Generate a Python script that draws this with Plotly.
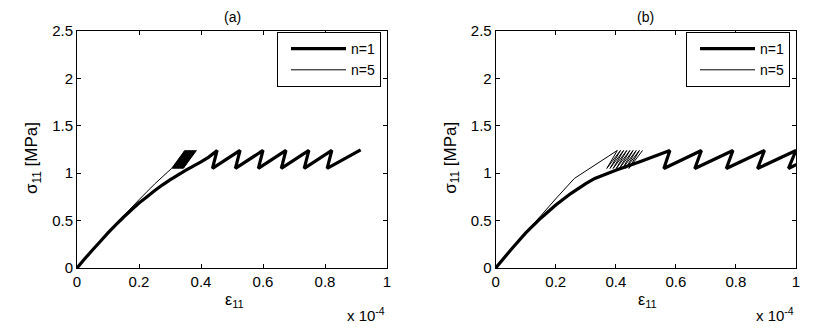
import plotly.graph_objects as go

W, H = 817, 329

# ---- data (strain in units of 1e-4, stress in MPa) ----
# panel (a)
a_thick_x = [0, 0.025, 0.05, 0.075, 0.1, 0.125, 0.15, 0.175, 0.2, 0.225, 0.25,
             0.275, 0.3, 0.325, 0.35, 0.375, 0.4, 0.425, 0.452,
             0.437, 0.526, 0.511, 0.600, 0.585, 0.674, 0.659, 0.748,
             0.733, 0.822, 0.807, 0.915]
a_thick_y = [0, 0.097, 0.19, 0.28, 0.37, 0.455, 0.535, 0.61, 0.685, 0.75, 0.815,
             0.875, 0.93, 0.98, 1.03, 1.075, 1.12, 1.17, 1.24,
             1.05, 1.24, 1.05, 1.24, 1.05, 1.24, 1.05, 1.24,
             1.05, 1.24, 1.05, 1.245]
a_thin_x = [0, 0.05, 0.1, 0.15, 0.2, 0.25, 0.305,
            0.348, 0.3075, 0.3505, 0.31, 0.353, 0.3125, 0.3555, 0.315,
            0.358, 0.3175, 0.3605, 0.32, 0.363, 0.3225, 0.3655, 0.325,
            0.368, 0.3275, 0.3705, 0.33, 0.373, 0.3325, 0.3755, 0.335,
            0.378, 0.3375, 0.3805, 0.34, 0.383, 0.3425, 0.3855]
a_thin_y = [0, 0.19, 0.375, 0.55, 0.72, 0.885, 1.05,
            1.24, 1.05, 1.24, 1.05, 1.24, 1.05, 1.24, 1.05,
            1.24, 1.05, 1.24, 1.05, 1.24, 1.05, 1.24, 1.05,
            1.24, 1.05, 1.24, 1.05, 1.24, 1.05, 1.24, 1.05,
            1.24, 1.05, 1.24, 1.05, 1.24, 1.05, 1.24]

# panel (b)
b_thick_x = [0, 0.05, 0.1, 0.15, 0.2, 0.25, 0.3, 0.33, 0.4, 0.48, 0.58,
             0.56, 0.685, 0.663, 0.79, 0.768, 0.895, 0.872, 1.0, 0.975, 1.04]
b_thick_y = [0, 0.19, 0.37, 0.525, 0.665, 0.785, 0.89, 0.945, 1.03, 1.12, 1.24,
             1.05, 1.24, 1.05, 1.24, 1.05, 1.24, 1.05, 1.24, 1.05, 1.15]
b_thin_x = [0, 0.05, 0.1, 0.15, 0.2, 0.262,
            0.405, 0.370, 0.4155, 0.3805, 0.426, 0.391, 0.4365, 0.4015,
            0.447, 0.412, 0.4575, 0.4225, 0.468, 0.433, 0.4785, 0.4435, 0.489]
b_thin_y = [0, 0.19, 0.375, 0.55, 0.73, 0.945,
            1.24, 1.05, 1.24, 1.05, 1.24, 1.05, 1.24, 1.05,
            1.24, 1.05, 1.24, 1.05, 1.24, 1.05, 1.24, 1.05, 1.24]

x_ticks = [0, 0.2, 0.4, 0.6, 0.8, 1]
y_ticks = [0, 0.5, 1, 1.5, 2, 2.5]
panel_titles = ["(a)", "(b)"]
legend_names = ["n=1", "n=5"]

FONT = "Liberation Sans, Arial, Helvetica, sans-serif"

# plot boxes in pixels: (left, right, top, bottom)
boxes = [(77, 387, 31, 268), (495.7, 796, 31, 268)]


def px_x(p):
    return p / W


def px_y(p):
    return 1 - p / H


fig = go.Figure()

panels = [(a_thick_x, a_thick_y, a_thin_x, a_thin_y),
          (b_thick_x, b_thick_y, b_thin_x, b_thin_y)]

for i, (tx, ty, nx, ny) in enumerate(panels):
    sfx = "" if i == 0 else str(i + 1)
    leg = "legend" if i == 0 else "legend2"
    fig.add_trace(go.Scatter(x=tx, y=ty, mode="lines", name=legend_names[0],
                             line=dict(color="black", width=3.2, simplify=False),
                             xaxis="x" + sfx, yaxis="y" + sfx, legend=leg))
    fig.add_trace(go.Scatter(x=nx, y=ny, mode="lines", name=legend_names[1],
                             line=dict(color="black", width=1, simplify=False),
                             xaxis="x" + sfx, yaxis="y" + sfx, legend=leg))

axis_common = dict(showgrid=False, zeroline=False, showline=True, linecolor="black",
                   linewidth=1, mirror="ticks", ticks="inside", ticklen=4,
                   tickcolor="black", tickwidth=1, automargin=False,
                   tickfont=dict(family=FONT, size=15, color="black"))

layout = dict(width=W, height=H, margin=dict(l=0, r=0, t=0, b=0, autoexpand=False),
              paper_bgcolor="white", plot_bgcolor="white", showlegend=True,
              font=dict(family=FONT, size=14, color="black"))

annotations = []
for i, (l, r, t, b) in enumerate(boxes):
    sfx = "" if i == 0 else str(i + 1)
    layout["xaxis" + sfx] = dict(axis_common, domain=[px_x(l), px_x(r)], range=[0, 1],
                                 tickvals=x_ticks, ticktext=[f"{v:g}" for v in x_ticks],
                                 anchor="y" + sfx)
    layout["yaxis" + sfx] = dict(axis_common, domain=[px_y(b), px_y(t)], range=[0, 2.5],
                                 tickvals=y_ticks, ticktext=[f"{v:g}" for v in y_ticks],
                                 anchor="x" + sfx)
    leg = dict(x=px_x(r - 6), y=px_y(t + 1), xanchor="right", yanchor="top",
               bordercolor="black", borderwidth=1, bgcolor="white",
               font=dict(family=FONT, size=14, color="black"),
               itemwidth=55, tracegroupgap=0, indentation=8)
    layout["legend" if i == 0 else "legend2"] = leg

    cx = (l + r) / 2
    annotations += [
        dict(text=panel_titles[i], x=px_x(cx), y=px_y(17), xref="paper", yref="paper",
             xanchor="center", yanchor="middle", showarrow=False,
             font=dict(family=FONT, size=14, color="black")),
        dict(text="ε<sub>11</sub>", x=px_x(cx + 2), y=px_y(300), xref="paper", yref="paper",
             xanchor="center", yanchor="middle", showarrow=False,
             font=dict(family=FONT, size=16, color="black")),
        dict(text="x 10<sup>-4</sup>", x=px_x(r), y=px_y(314), xref="paper", yref="paper",
             xanchor="right", yanchor="middle", showarrow=False,
             font=dict(family=FONT, size=15, color="black")),
        dict(text="σ<sub>11</sub> [MPa]", x=px_x(l - 44), y=px_y(158), xref="paper",
             yref="paper", xanchor="center", yanchor="middle", textangle=-90,
             showarrow=False, font=dict(family=FONT, size=17, color="black")),
    ]

layout["annotations"] = annotations
fig.update_layout(**layout)

fig.write_html("out.html", config={"displayModeBar": False},
               post_script="document.body.style.margin='0';")
